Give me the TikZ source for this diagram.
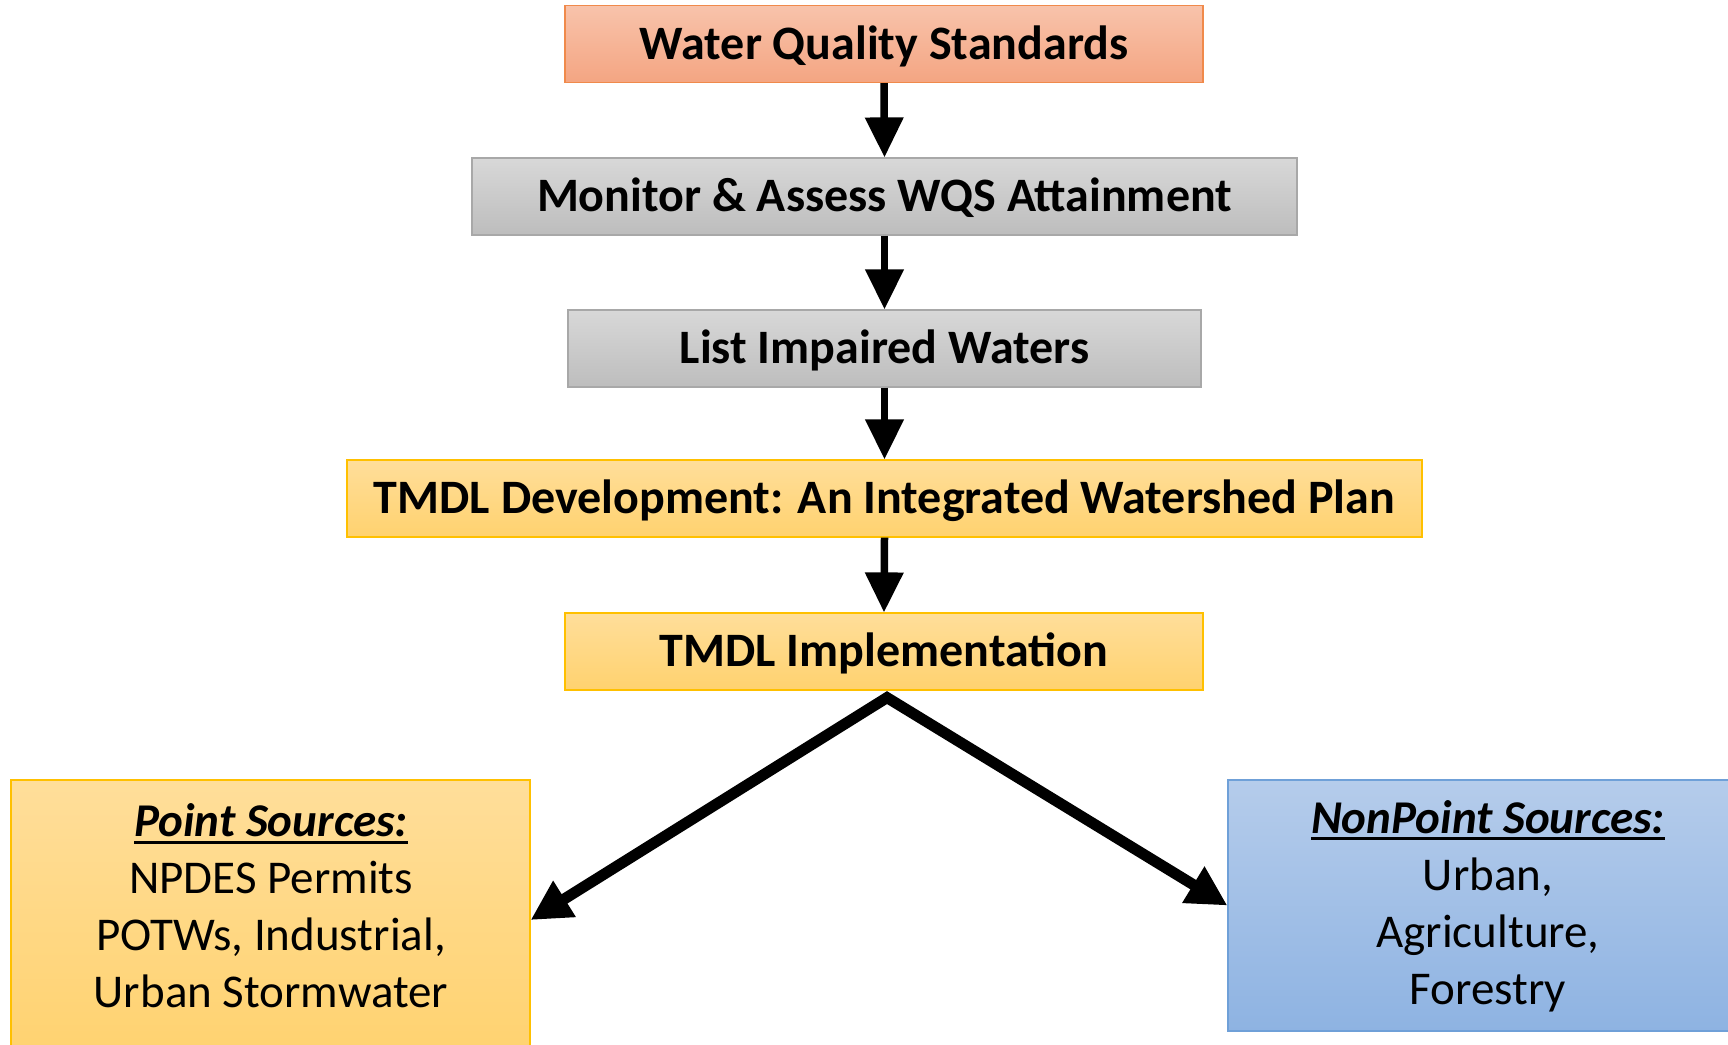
\documentclass[tikz,border=0pt]{standalone}
\usepackage{fontspec}
\setmainfont{Carlito}
\usetikzlibrary{arrows.meta,calc}
\definecolor{wqsTop}{HTML}{F8C3AB}
\definecolor{wqsBot}{HTML}{F4A582}
\definecolor{wqsLine}{HTML}{F08A4B}
\definecolor{grTop}{HTML}{D8D8D8}
\definecolor{grBot}{HTML}{BDBDBD}
\definecolor{grLine}{HTML}{A8A8A8}
\definecolor{ylTop}{HTML}{FFDE9A}
\definecolor{ylBot}{HTML}{FFD26F}
\definecolor{ylLine}{HTML}{FFC000}
\definecolor{blTop}{HTML}{B5CCEB}
\definecolor{blBot}{HTML}{8EB3E2}
\definecolor{blLine}{HTML}{6FA0D8}
\newcommand\myul[1]{\setbox0\hbox{#1}\rlap{\rule[-7pt]{\wd0}{3pt}}\box0}
\tikzset{
  box/.style={draw, line width=1.2pt, minimum height=77pt, inner sep=0pt,
    text height=40pt, text depth=10pt,
    font=\fontsize{48}{56}\selectfont\bfseries},
  emptybox/.style={draw, line width=1.2pt, inner sep=0pt},
  wqsbox/.style={box, draw=wqsLine, top color=wqsTop, bottom color=wqsBot},
  graybox/.style={box, draw=grLine, top color=grTop, bottom color=grBot},
  yelbox/.style={box, draw=ylLine, top color=ylTop, bottom color=ylBot},
  yelpanel/.style={emptybox, draw=ylLine, top color=ylTop, bottom color=ylBot},
  bluepanel/.style={emptybox, draw=blLine, top color=blTop, bottom color=blBot},
  srctext/.style={align=center, font=\fontsize{47}{57}\selectfont, inner sep=0pt},
  vflow/.style={line width=7.5pt, -{Triangle[width=37pt,length=40pt]}},
  dflow/.style={line width=11pt, line join=miter,
    {Triangle[width=40pt,length=40pt]}-{Triangle[width=40pt,length=40pt]}},
}
\begin{document}
\begin{tikzpicture}[x=1pt,y=1pt]
\useasboundingbox (0,0) rectangle (1728,-1044);
\node[wqsbox, minimum width=638pt] (wqs) at (884,-44) {Water Quality Standards};
\node[graybox, minimum width=825pt] (mon) at (884.5,-196.5) {Monitor \& Assess WQS Attainment};
\node[graybox, minimum width=633pt] (list) at (884.5,-348.5) {List Impaired Waters};
\node[yelbox, minimum width=1075pt] (dev) at (884.5,-498.5) {TMDL Development: An Integrated Watershed Plan};
\node[yelbox, minimum width=638pt] (impl) at (884,-651.5) {TMDL Implementation};
\node[yelpanel, minimum width=519pt, minimum height=280pt] (ps) at (270.5,-920) {};
\node[srctext] (pst) at (271,-906) {{\bfseries\itshape\myul{Point Sources:}}\\NPDES Permits\\POTWs, Industrial,\\Urban Stormwater};
\node[bluepanel, minimum width=512pt, minimum height=251pt] (nps) at (1484,-905.5) {};
\node[srctext] (npst) at (1488,-906) {{\bfseries\itshape\myul{NonPoint Sources:}}\\Urban,\\Agriculture,\\Forestry};
\draw[vflow] (wqs.south) -- (mon.north);
\draw[vflow] (mon.south) -- (list.north);
\draw[vflow] (list.south) -- (dev.north);
\draw[vflow] (dev.south) -- (impl.north);
\coordinate (apex) at ($(impl.south)+(3,-7)$);
\draw[dflow] (ps.east) -- (apex) -- (nps.west);
\end{tikzpicture}
\end{document}
